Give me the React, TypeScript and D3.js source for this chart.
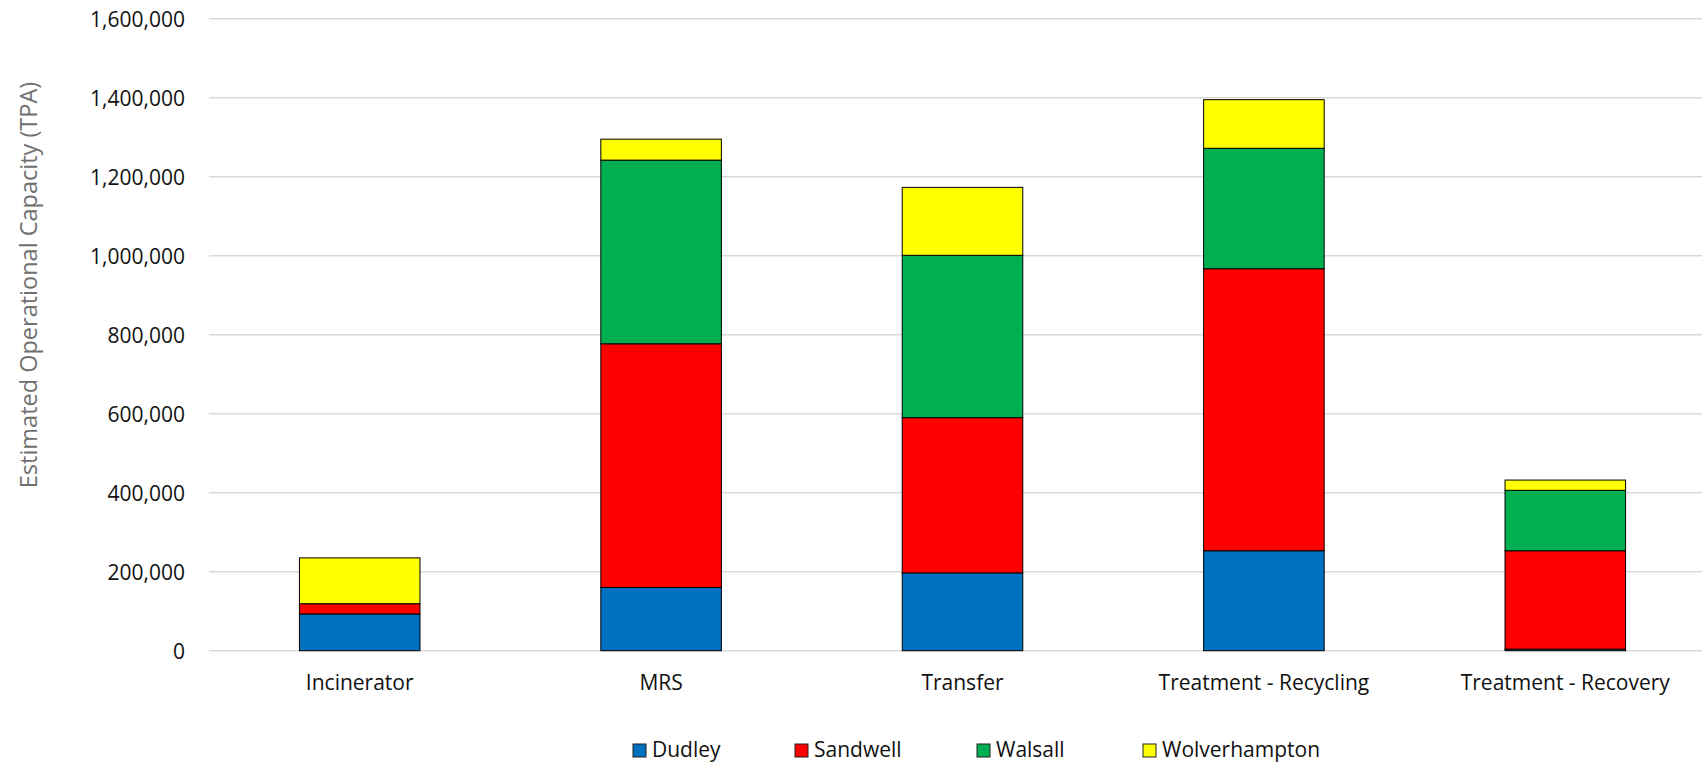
import React from "react";
import * as d3 from "d3";

// Waste facility categories along the x axis
const categories = [
  "Incinerator",
  "MRS",
  "Transfer",
  "Treatment - Recycling",
  "Treatment - Recovery",
];

// Estimated operational capacity (tonnes per annum) by authority
const dudley = [93000, 160000, 197000, 253000, 4000];
const sandwell = [26000, 617000, 393000, 714000, 249000];
const walsall = [0, 465000, 411000, 305000, 153000];
const wolverhampton = [116000, 53000, 172000, 123000, 26000];

const seriesNames = ["Dudley", "Sandwell", "Walsall", "Wolverhampton"];
const seriesColors = ["#0070C0", "#FF0000", "#00B050", "#FFFF00"];

const yTicks = [0, 200000, 400000, 600000, 800000, 1000000, 1200000, 1400000, 1600000];

const W = 1702;
const H = 762;
const FONT = "'Open Sans', sans-serif";

export default function App() {
  const seriesValues = [dudley, sandwell, walsall, wolverhampton];
  const rows = categories.map((c, i) => {
    const r: Record<string, any> = { category: c };
    seriesNames.forEach((s, k) => (r[s] = seriesValues[k][i]));
    return r;
  });
  const stacked = d3.stack<any>().keys(seriesNames)(rows);

  const x = d3
    .scaleBand<string>()
    .domain(categories)
    .range([209, 1716])
    .paddingInner(0.6)
    .paddingOuter(0.3);
  const y = d3.scaleLinear().domain([0, 1600000]).range([650.7, 18.7]);
  const fmt = d3.format(",");

  const legendX = [633, 795, 977, 1143];

  return (
    <svg
      width={W}
      height={H}
      style={{ position: "absolute", left: 0, top: 0, background: "#fff" }}
      fontFamily={FONT}
    >
      {/* gridlines and tick labels */}
      {yTicks.map((t) => (
        <g key={t}>
          <line
            x1={209}
            x2={W}
            y1={y(t)}
            y2={y(t)}
            stroke="#d9d9d9"
            strokeWidth={1.4}
          />
          <text
            x={185}
            y={y(t)}
            textAnchor="end"
            dominantBaseline="central"
            fontSize={21}
            fill="#111"
          >
            {fmt(t)}
          </text>
        </g>
      ))}

      {/* stacked bars */}
      {stacked.map((layer, k) => (
        <g key={layer.key} fill={seriesColors[k]}>
          {layer.map((d, i) =>
            d[1] - d[0] > 0 ? (
              <rect
                key={i}
                x={x(categories[i])}
                width={x.bandwidth()}
                y={y(d[1])}
                height={y(d[0]) - y(d[1])}
                stroke="#000"
                strokeWidth={1}
              />
            ) : null
          )}
        </g>
      ))}

      {/* category labels */}
      {categories.map((c) => (
        <text
          key={c}
          x={(x(c) as number) + x.bandwidth() / 2}
          y={690}
          textAnchor="middle"
          fontSize={21}
          fill="#111"
        >
          {c}
        </text>
      ))}

      {/* y axis title */}
      <text
        transform={`translate(37,285) rotate(-90)`}
        textAnchor="middle"
        fontSize={23.5}
        fill="#707070"
      >
        Estimated Operational Capacity (TPA)
      </text>

      {/* legend */}
      {seriesNames.map((s, k) => (
        <g key={s}>
          <rect
            x={legendX[k]}
            y={744}
            width={13}
            height={13}
            fill={seriesColors[k]}
            stroke="#222"
            strokeWidth={1}
          />
          <text x={legendX[k] + 19} y={757} fontSize={21} fill="#111">
            {s}
          </text>
        </g>
      ))}
    </svg>
  );
}
